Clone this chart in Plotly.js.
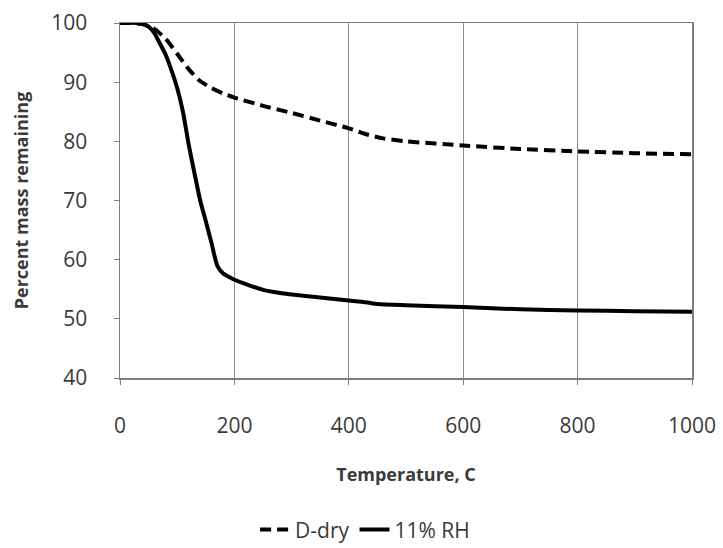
<!DOCTYPE html>
<html>
<head>
<meta charset="utf-8">
<script src="https://cdn.plot.ly/plotly-3.0.1.min.js"></script>
<style>html,body{margin:0;padding:0;background:#fff;}#chart{width:723px;height:548px;}</style>
</head>
<body>
<div id="chart"></div>
<script>
// Temperature (C) and percent mass remaining
const tempDry = [0, 20, 40, 60, 80, 100, 120, 140, 160, 180, 200, 250, 300, 350, 400, 430, 460, 500, 600, 700, 800, 900, 1000];
const massDry = [100, 100, 99.8, 99.0, 97.3, 94.8, 92.2, 90.2, 89.0, 88.1, 87.4, 86.0, 84.8, 83.5, 82.2, 81.2, 80.5, 80.0, 79.3, 78.7, 78.3, 78.0, 77.8];

const tempRH = [0, 30, 40, 50, 60, 70, 80, 90, 100, 110, 120, 130, 140, 150, 160, 170, 180, 190, 200, 250, 300, 350, 400, 430, 450, 500, 600, 700, 800, 900, 1000];
const massRH = [100, 100, 99.8, 99.4, 98.3, 96.5, 94.6, 92.0, 89.0, 85.0, 79.5, 74.7, 70.1, 66.5, 62.8, 59.0, 57.7, 57.1, 56.6, 54.9, 54.1, 53.6, 53.1, 52.8, 52.5, 52.3, 52.0, 51.6, 51.4, 51.3, 51.2];

const seriesNames = ["D-dry", "11% RH"];
const xTicks = [0, 200, 400, 600, 800, 1000];
const yTicks = [40, 50, 60, 70, 80, 90, 100];

const txt = "#3a3a3a";
const fam = "Open Sans, Liberation Sans, sans-serif";

const traces = [
  {x: tempDry, y: massDry, name: seriesNames[0], mode: "lines",
   line: {color: "#000", width: 4, dash: "11px,6px", shape: "spline", smoothing: 0.6}},
  {x: tempRH, y: massRH, name: seriesNames[1], mode: "lines",
   line: {color: "#000", width: 4, shape: "spline", smoothing: 0.6}}
];

const layout = {
  width: 723, height: 548,
  margin: {l: 120, r: 31, t: 23, b: 170, pad: 0},
  paper_bgcolor: "#fff", plot_bgcolor: "#fff",
  showlegend: true,
  legend: {orientation: "h", xref: "container", yref: "container", x: 0.505, xanchor: "center", y: 0.033, yanchor: "middle",
           font: {family: fam, size: 21, color: txt}, itemwidth: 30, tracegroupgap: 0},
  xaxis: {range: [0, 1000], tickvals: xTicks, ticktext: xTicks.map(String), automargin: false,
          showgrid: true, gridcolor: "#8c8c8c", gridwidth: 1, zeroline: false,
          showline: true, linecolor: "#7f7f7f", linewidth: 1.5, mirror: true,
          ticks: "outside", ticklen: 5, tickcolor: "#7f7f7f", ticklabelstandoff: 23,
          tickfont: {family: fam, size: 21, color: txt},
          title: {text: "<b>Temperature, C</b>", font: {family: fam, size: 18, color: txt}, standoff: 30}},
  yaxis: {range: [40, 100], tickvals: yTicks, ticktext: yTicks.map(String), automargin: false,
          showgrid: false, zeroline: false,
          showline: true, linecolor: "#7f7f7f", linewidth: 1.5, mirror: true,
          ticks: "outside", ticklen: 5, tickcolor: "#7f7f7f", ticklabelstandoff: 22,
          tickfont: {family: fam, size: 21, color: txt},
          title: {text: "<b>Percent mass remaining</b>", font: {family: fam, size: 18, color: txt}, standoff: 18}}
};

Plotly.newPlot("chart", traces, layout, {displayModeBar: false, staticPlot: true});
</script>
</body>
</html>
